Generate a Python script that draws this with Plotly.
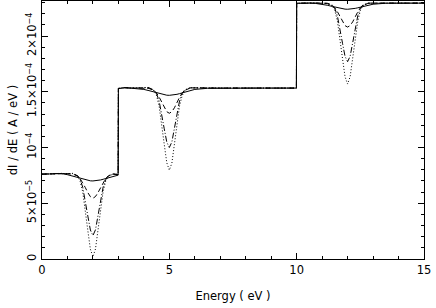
import plotly.graph_objects as go

# Energy grid (eV)
energy = [0, 0.25, 0.5, 0.75, 1.0, 1.2, 1.4, 1.5, 1.6, 1.7, 1.8, 1.9, 2.0, 2.1, 2.2, 2.3, 2.4, 2.5, 2.6, 2.8, 2.99,
          3.0, 3.25, 3.5, 3.75, 4.0, 4.2, 4.4, 4.5, 4.6, 4.7, 4.8, 4.9, 5.0, 5.1, 5.2, 5.3, 5.4, 5.5, 5.6, 5.8, 6.0,
          6.5, 7.0, 7.5, 8.0, 8.5, 9.0, 9.5, 9.99,
          10.0, 10.25, 10.5, 10.75, 11.0, 11.2, 11.4, 11.5, 11.6, 11.7, 11.8, 11.9, 12.0, 12.1, 12.2, 12.3, 12.4,
          12.5, 12.6, 12.8, 13.0, 13.5, 14.0, 14.5, 15.0]

# dI/dE in units of 1e-5 A/eV
solid = [7.60, 7.64, 7.68, 7.67, 7.56, 7.44, 7.30, 7.22, 7.15, 7.09, 7.04, 7.01, 7.00, 7.01, 7.04, 7.09, 7.15, 7.22, 7.29, 7.42, 7.52,
         15.28, 15.36, 15.32, 15.29, 15.21, 15.10, 14.97, 14.90, 14.83, 14.77, 14.72, 14.69, 14.68, 14.69, 14.72, 14.77, 14.83, 14.90, 14.97, 15.10, 15.21,
         15.31, 15.33, 15.33, 15.33, 15.33, 15.33, 15.33, 15.33,
         22.93, 22.97, 22.95, 22.92, 22.85, 22.76, 22.65, 22.59, 22.53, 22.48, 22.44, 22.41, 22.40, 22.41, 22.44, 22.48, 22.53,
         22.59, 22.65, 22.76, 22.85, 22.94, 22.95, 22.96, 22.95]

dashed = [7.62, 7.64, 7.66, 7.69, 7.65, 7.62, 7.45, 7.20, 6.86, 6.41, 5.95, 5.59, 5.45, 5.60, 5.96, 6.40, 6.88, 7.22, 7.44, 7.60, 7.57,
          15.29, 15.36, 15.35, 15.34, 15.33, 15.30, 15.10, 14.87, 14.52, 14.06, 13.58, 13.21, 13.07, 13.22, 13.56, 14.07, 14.50, 14.88, 15.12, 15.31, 15.35,
          15.33, 15.33, 15.33, 15.33, 15.33, 15.33, 15.33, 15.33,
          22.94, 22.98, 22.96, 22.95, 22.94, 22.91, 22.73, 22.51, 22.18, 21.74, 21.28, 20.93, 20.80, 20.94, 21.27, 21.75, 22.17,
          22.52, 22.74, 22.92, 22.95, 22.95, 22.95, 22.95, 22.95]

dashdot = [7.61, 7.63, 7.67, 7.68, 7.64, 7.66, 7.47, 7.13, 6.43, 5.28, 3.85, 2.60, 2.10, 2.62, 3.88, 5.25, 6.45, 7.12, 7.48, 7.63, 7.58,
           15.31, 15.37, 15.33, 15.35, 15.34, 15.36, 15.15, 14.83, 14.16, 13.05, 11.68, 10.48, 10.00, 10.50, 11.70, 13.02, 14.18, 14.85, 15.16, 15.35, 15.33,
           15.34, 15.33, 15.33, 15.33, 15.33, 15.33, 15.33, 15.33,
           22.94, 22.97, 22.95, 22.96, 22.95, 22.94, 22.78, 22.46, 21.80, 20.71, 19.35, 18.17, 17.70, 18.19, 19.33, 20.73, 21.82,
           22.47, 22.79, 22.95, 22.95, 22.95, 22.95, 22.95, 22.95]

dotted = [7.60, 7.64, 7.68, 7.67, 7.66, 7.68, 7.45, 6.95, 6.01, 4.47, 2.55, 0.87, 0.20, 0.90, 2.50, 4.50, 6.05, 6.98, 7.42, 7.62, 7.60,
          15.30, 15.38, 15.34, 15.36, 15.35, 15.38, 15.09, 14.64, 13.71, 12.19, 10.29, 8.63, 7.97, 8.60, 10.32, 12.20, 13.73, 14.62, 15.10, 15.36, 15.34,
          15.35, 15.33, 15.33, 15.34, 15.33, 15.33, 15.34, 15.33,
          22.95, 22.98, 22.96, 22.97, 22.95, 22.93, 22.71, 22.27, 21.35, 19.85, 17.98, 16.34, 15.69, 16.36, 17.96, 19.87, 21.33,
          22.28, 22.72, 22.94, 22.95, 22.95, 22.95, 22.95, 22.95]

unit = 1e-5
x_ticks = [0, 5, 10, 15]
y_tickvals = [0, 5e-5, 1e-4, 1.5e-4, 2e-4]
y_ticktext = ["0", "5×10<sup>−5</sup>", "10<sup>−4</sup>", "1.5×10<sup>−4</sup>", "2×10<sup>−4</sup>"]

series = [
    (dotted, "1px,2px"),
    (dashdot, "6px,2px,1px,2px"),
    (dashed, "5px,3px"),
    (solid, "solid"),
]

fig = go.Figure()
for vals, dash in series:
    fig.add_trace(go.Scatter(
        x=energy, y=[v * unit for v in vals], mode="lines",
        line=dict(color="black", width=1, dash=dash), showlegend=False,
    ))

font = dict(family="DejaVu Sans, Liberation Sans, sans-serif", size=11.5, color="black")

fig.update_layout(
    width=436, height=308,
    margin=dict(l=42, r=12, t=1, b=49, autoexpand=False),
    paper_bgcolor="white", plot_bgcolor="white",
    font=font,
)
fig.update_xaxes(
    range=[0, 15], tickvals=x_ticks, ticks="inside", ticklen=6, tickcolor="black",
    showline=True, linecolor="black", linewidth=1, mirror="allticks",
    showgrid=False, zeroline=False, automargin=False,
    minor=dict(ticks="inside", ticklen=3, dtick=1, tickcolor="black", showgrid=False),
    title=dict(text="Energy ( eV )", font=font, standoff=16),
    tickfont=font,
)
fig.update_yaxes(
    range=[0, 2.314e-4], tickvals=y_tickvals, ticktext=y_ticktext, tickangle=-90,
    ticks="inside", ticklen=6, tickcolor="black",
    showline=True, linecolor="black", linewidth=1, mirror="allticks",
    showgrid=False, zeroline=False, automargin=False,
    minor=dict(ticks="inside", ticklen=3, dtick=1e-5, tickcolor="black", showgrid=False),
    title=dict(text="dI / dE ( A / eV )", font=font, standoff=4),
    tickfont=font,
)

fig.write_html("out.html", config={"displayModeBar": False},
               post_script="document.body.style.margin='0';")
